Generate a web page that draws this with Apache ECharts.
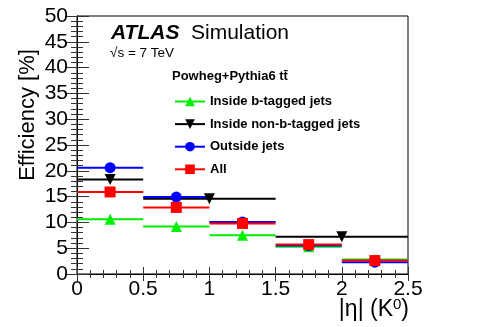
<!DOCTYPE html>
<html>
<head>
<meta charset="utf-8">
<script src="https://cdn.jsdelivr.net/npm/echarts@6/dist/echarts.min.js"></script>
<style>
  html, body { margin: 0; padding: 0; background: #fff; }
  #main { width: 480px; height: 327px; }
</style>
</head>
<body>
<div id="main"></div>
<script>
  // bin edges in |eta|
  const edgesFine = [0, 0.5, 1, 1.5, 2, 2.5];
  const edgesCoarse = [0, 0.5, 1.5, 2.5];

  // efficiency values [%]
  const insideB = [10.6, 9.2, 7.5, 5.3, 2.8];
  const insideNonB = [18.3, 14.6, 7.2];
  const outsideJets = [20.6, 14.9, 10.1, 5.5, 2.3];
  const allJets = [15.9, 12.9, 9.8, 5.7, 2.6];

  const xTicks = [0, 0.5, 1, 1.5, 2, 2.5];
  const yTicks = [0, 5, 10, 15, 20, 25, 30, 35, 40, 45, 50];

  const FONT = 'Liberation Sans, Arial, sans-serif';

  var myChart = echarts.init(document.getElementById('main'));

  // turn edges + values into [lo, hi, y] rows and marker points
  const segs = (edges, vals) => vals.map((v, i) => [edges[i], edges[i + 1], v]);
  const pts = (edges, vals) => vals.map((v, i) => [(edges[i] + edges[i + 1]) / 2, v]);

  const groups = [
    { name: 'Inside b-tagged jets', color: '#00ee00', edges: edgesFine, vals: insideB, symbol: 'triangle', rot: 0, size: 11 },
    { name: 'Inside non-b-tagged jets', color: '#000000', edges: edgesCoarse, vals: insideNonB, symbol: 'triangle', rot: 180, size: 11 },
    { name: 'Outside jets', color: '#0000ff', edges: edgesFine, vals: outsideJets, symbol: 'circle', rot: 0, size: 11 },
    { name: 'All', color: '#ff0000', edges: edgesFine, vals: allJets, symbol: 'rect', rot: 0, size: 11 }
  ];

  let series = [];
  groups.forEach(function (g, k) {
    series.push({
      name: g.name + ' bins',
      type: 'custom',
      z: 2 + k,
      data: segs(g.edges, g.vals),
      encode: { x: [0, 1], y: 2 },
      renderItem: function (params, api) {
        const a = api.coord([api.value(0), api.value(2)]);
        const b = api.coord([api.value(1), api.value(2)]);
        return {
          type: 'line',
          shape: { x1: a[0], y1: a[1], x2: b[0], y2: b[1] },
          style: { stroke: g.color, lineWidth: 2 }
        };
      }
    });
    series.push({
      name: g.name,
      type: 'line',
      z: 10 + k,
      data: pts(g.edges, g.vals),
      symbol: g.symbol,
      symbolRotate: g.rot,
      symbolSize: g.size,
      showSymbol: true,
      color: g.color,
      itemStyle: { color: g.color },
      lineStyle: { opacity: 0, width: 0 }
    });
  });

  const tickCol = '#333';

  const option = {
    animation: false,
    grid: { left: 77, right: 72, top: 16, bottom: 53, show: true, borderColor: '#000', borderWidth: 1 },
    legend: {
      data: groups.map(g => g.name),
      orient: 'vertical',
      left: 169,
      top: 90,
      itemWidth: 30,
      itemHeight: 12,
      itemGap: 9.6,
      lineStyle: { opacity: 1, width: 2 },
      textStyle: { fontFamily: FONT, fontWeight: 'bold', fontSize: 13, color: '#000' }
    },
    xAxis: [{
      type: 'value', min: 0, max: 2.5, interval: 0.5,
      axisLine: { show: true, lineStyle: { color: '#000' } },
      axisTick: { inside: true, length: 7, lineStyle: { color: tickCol } },
      minorTick: { show: true, splitNumber: 5, length: 4, lineStyle: { color: tickCol } },
      splitLine: { show: false },
      axisLabel: { fontFamily: FONT, fontSize: 21, color: '#000', margin: 5,
        formatter: v => xTicks.includes(v) ? String(v) : '' }
    }, {
      type: 'value', min: 0, max: 2.5, interval: 0.5, position: 'top',
      axisLine: { show: true, lineStyle: { color: '#000' } },
      axisTick: { inside: true, length: 7, lineStyle: { color: tickCol } },
      minorTick: { show: true, splitNumber: 5, length: 4, lineStyle: { color: tickCol } },
      splitLine: { show: false },
      axisLabel: { show: false }
    }],
    yAxis: [{
      type: 'value', min: 0, max: 50, interval: 5,
      axisLine: { show: true, lineStyle: { color: '#000' } },
      axisTick: { inside: true, length: 12, lineStyle: { color: tickCol } },
      minorTick: { show: true, splitNumber: 5, length: 6, lineStyle: { color: tickCol } },
      splitLine: { show: false },
      axisLabel: { fontFamily: FONT, fontSize: 21, color: '#000', margin: 9,
        formatter: v => yTicks.includes(v) ? String(v) : '' }
    }, {
      type: 'value', min: 0, max: 50, interval: 5, position: 'right',
      axisLine: { show: true, lineStyle: { color: '#000' } },
      axisTick: { inside: true, length: 12, lineStyle: { color: tickCol } },
      minorTick: { show: true, splitNumber: 5, length: 6, lineStyle: { color: tickCol } },
      splitLine: { show: false },
      axisLabel: { show: false }
    }],
    graphic: [
      {
        type: 'text', left: 111, top: 23,
        style: { text: 'ATLAS', fontFamily: FONT, fontSize: 21, fontWeight: 'bold', fontStyle: 'italic', fill: '#000' }
      },
      {
        type: 'text', left: 191, top: 23,
        style: { text: 'Simulation', fontFamily: FONT, fontSize: 21, fill: '#000' }
      },
      {
        type: 'text', left: 110, top: 46,
        style: { text: '\u221As = 7 TeV', fontFamily: FONT, fontSize: 13.5, fill: '#000' }
      },
      {
        type: 'text', left: 172, top: 70,
        style: { text: 'Powheg+Pythia6 tt\u0304', fontFamily: FONT, fontSize: 13, fontWeight: 'bold', fill: '#000' }
      },
      {
        type: 'text', x: 28, y: 115, rotation: Math.PI / 2,
        style: { text: 'Efficiency [%]', fontFamily: FONT, fontSize: 22, fill: '#000', align: 'center', verticalAlign: 'middle' }
      },
      {
        type: 'text', right: 71, top: 297,
        style: {
          text: '|\u03B7| (K{s|0})',
          fontFamily: FONT, fontSize: 23, fill: '#000',
          rich: { s: { fontFamily: FONT, fontSize: 15, verticalAlign: 'top', padding: [0, 0, 11, 0] } }
        }
      }
    ],
    series: series
  };

  myChart.setOption(option);
</script>
</body>
</html>
